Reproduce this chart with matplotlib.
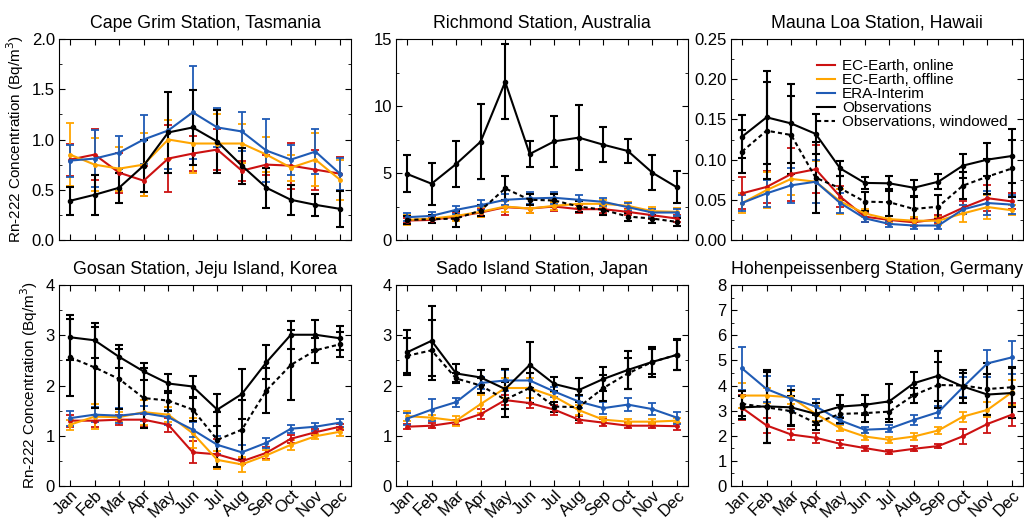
import matplotlib.pyplot as plt
import numpy as np
from matplotlib.lines import Line2D
from matplotlib.ticker import AutoMinorLocator

plt.rcParams['font.family'] = ['Liberation Sans', 'DejaVu Sans']

months = ['Jan', 'Feb', 'Mar', 'Apr', 'May', 'Jun',
          'Jul', 'Aug', 'Sep', 'Oct', 'Nov', 'Dec']

titles = ['Cape Grim Station, Tasmania', 'Richmond Station, Australia',
          'Mauna Loa Station, Hawaii', 'Gosan Station, Jeju Island, Korea',
          'Sado Island Station, Japan', 'Hohenpeissenberg Station, Germany']

# EC-Earth, online
online = [
    [0.80, 0.85, 0.67, 0.59, 0.81, 0.86, 0.90, 0.69, 0.75, 0.74, 0.70, 0.66],
    [1.45, 1.50, 1.75, 2.05, 2.45, 2.35, 2.50, 2.30, 2.30, 2.10, 1.85, 1.60],
    [0.058, 0.066, 0.082, 0.088, 0.054, 0.029, 0.025, 0.022, 0.026, 0.040, 0.052, 0.048],
    [1.30, 1.30, 1.32, 1.32, 1.22, 0.67, 0.63, 0.49, 0.66, 0.94, 1.07, 1.18],
    [1.18, 1.20, 1.27, 1.43, 1.71, 1.65, 1.52, 1.32, 1.26, 1.20, 1.20, 1.19],
    [3.11, 2.41, 2.05, 1.92, 1.68, 1.51, 1.35, 1.48, 1.59, 1.98, 2.47, 2.84],
]
online_err = [
    [0.16, 0.25, 0.20, 0.15, 0.33, 0.17, 0.20, 0.10, 0.10, 0.23, 0.20, 0.17],
    [0.20, 0.20, 0.25, 0.30, 0.55, 0.30, 0.30, 0.30, 0.30, 0.25, 0.25, 0.25],
    [0.020, 0.020, 0.033, 0.030, 0.013, 0.006, 0.005, 0.004, 0.005, 0.008, 0.016, 0.010],
    [0.12, 0.12, 0.10, 0.12, 0.14, 0.22, 0.30, 0.05, 0.12, 0.08, 0.06, 0.06],
    [0.05, 0.05, 0.05, 0.10, 0.10, 0.10, 0.10, 0.07, 0.07, 0.05, 0.05, 0.07],
    [0.50, 0.30, 0.20, 0.20, 0.15, 0.10, 0.08, 0.10, 0.08, 0.30, 0.35, 0.45],
]

# EC-Earth, offline
offline = [
    [0.85, 0.75, 0.71, 0.75, 1.00, 0.96, 0.96, 0.96, 0.85, 0.72, 0.80, 0.60],
    [1.50, 1.60, 1.80, 2.10, 2.50, 2.35, 2.55, 2.70, 2.70, 2.55, 2.15, 2.10],
    [0.046, 0.062, 0.076, 0.0725, 0.048, 0.033, 0.026, 0.024, 0.024, 0.033, 0.041, 0.037],
    [1.22, 1.38, 1.37, 1.47, 1.42, 1.05, 0.52, 0.43, 0.61, 0.82, 0.99, 1.08],
    [1.39, 1.36, 1.30, 1.63, 1.95, 1.95, 1.78, 1.51, 1.32, 1.28, 1.28, 1.30],
    [3.60, 3.60, 3.53, 2.87, 2.30, 1.97, 1.84, 1.97, 2.21, 2.76, 3.03, 3.73],
]
offline_err = [
    [0.31, 0.26, 0.22, 0.31, 0.19, 0.29, 0.29, 0.19, 0.17, 0.13, 0.26, 0.20],
    [0.35, 0.30, 0.35, 0.35, 0.40, 0.35, 0.30, 0.30, 0.30, 0.30, 0.30, 0.30],
    [0.012, 0.022, 0.020, 0.026, 0.016, 0.005, 0.004, 0.005, 0.005, 0.010, 0.015, 0.006],
    [0.10, 0.25, 0.10, 0.25, 0.15, 0.30, 0.18, 0.15, 0.10, 0.10, 0.05, 0.08],
    [0.10, 0.05, 0.10, 0.18, 0.20, 0.20, 0.10, 0.10, 0.05, 0.05, 0.05, 0.05],
    [0.50, 0.30, 0.25, 0.30, 0.12, 0.15, 0.12, 0.15, 0.15, 0.20, 0.30, 0.50],
]

# ERA-Interim
era = [
    [0.79, 0.81, 0.87, 1.00, 1.09, 1.27, 1.12, 1.08, 0.89, 0.80, 0.88, 0.66],
    [1.70, 1.80, 2.25, 2.60, 3.00, 3.10, 3.15, 3.00, 2.85, 2.45, 2.05, 2.05],
    [0.046, 0.058, 0.068, 0.0725, 0.046, 0.027, 0.020, 0.018, 0.018, 0.038, 0.046, 0.044],
    [1.35, 1.42, 1.40, 1.45, 1.37, 1.12, 0.82, 0.67, 0.86, 1.14, 1.18, 1.26],
    [1.34, 1.52, 1.67, 2.05, 2.10, 2.10, 1.88, 1.68, 1.55, 1.62, 1.53, 1.36],
    [4.68, 3.86, 3.47, 3.17, 2.61, 2.24, 2.28, 2.63, 2.94, 3.93, 4.88, 5.12],
]
era_err = [
    [0.16, 0.28, 0.16, 0.24, 0.38, 0.46, 0.19, 0.19, 0.31, 0.15, 0.22, 0.16],
    [0.30, 0.30, 0.30, 0.35, 0.40, 0.45, 0.45, 0.35, 0.30, 0.30, 0.25, 0.25],
    [0.010, 0.017, 0.022, 0.027, 0.012, 0.005, 0.004, 0.004, 0.004, 0.006, 0.015, 0.012],
    [0.15, 0.15, 0.15, 0.15, 0.15, 0.15, 0.18, 0.15, 0.10, 0.08, 0.08, 0.08],
    [0.12, 0.22, 0.09, 0.12, 0.20, 0.15, 0.10, 0.12, 0.12, 0.13, 0.12, 0.12],
    [0.85, 0.50, 0.50, 0.30, 0.15, 0.12, 0.15, 0.20, 0.25, 0.40, 0.55, 0.65],
]

# Observations
obs = [
    [0.39, 0.45, 0.52, 0.74, 1.07, 1.12, 0.98, 0.74, 0.52, 0.40, 0.35, 0.31],
    [4.93, 4.20, 5.67, 7.34, 11.8, 6.42, 7.36, 7.64, 7.11, 6.64, 5.02, 3.93],
    [0.1285, 0.1526, 0.145, 0.132, 0.089, 0.071, 0.0705, 0.065, 0.0725, 0.0925, 0.100, 0.1045],
    [2.96, 2.90, 2.57, 2.28, 2.04, 1.98, 1.52, 1.83, 2.46, 3.01, 3.01, 2.94],
    [2.66, 2.89, 2.24, 2.16, 1.93, 2.41, 2.03, 1.91, 2.13, 2.31, 2.47, 2.61],
    [3.13, 3.17, 3.13, 2.87, 3.16, 3.23, 3.37, 4.09, 4.39, 3.96, 3.64, 3.70],
]
obs_err = [
    [0.14, 0.20, 0.15, 0.26, 0.40, 0.37, 0.31, 0.18, 0.20, 0.15, 0.11, 0.18],
    [1.38, 1.58, 1.70, 2.80, 2.80, 1.00, 1.90, 2.45, 1.30, 0.90, 1.30, 1.20],
    [0.027, 0.058, 0.049, 0.025, 0.009, 0.007, 0.009, 0.010, 0.009, 0.015, 0.021, 0.034],
    [0.45, 0.35, 0.23, 0.17, 0.18, 0.20, 0.32, 0.50, 0.34, 0.28, 0.30, 0.24],
    [0.45, 0.70, 0.18, 0.15, 0.40, 0.45, 0.14, 0.24, 0.24, 0.38, 0.30, 0.31],
    [0.45, 1.45, 0.70, 0.45, 0.45, 0.40, 0.70, 0.45, 1.00, 0.65, 0.80, 1.00],
]

# Observations, windowed (none for Cape Grim)
obs_win = [
    None,
    [1.50, 1.55, 1.60, 2.20, 3.85, 3.00, 2.95, 2.50, 2.25, 1.75, 1.60, 1.35],
    [0.110, 0.136, 0.1306, 0.0775, 0.0643, 0.0477, 0.047, 0.0386, 0.0415, 0.0676, 0.0788, 0.089],
    [2.56, 2.36, 2.13, 1.75, 1.70, 1.52, 0.92, 1.12, 1.90, 2.41, 2.70, 2.82],
    [2.59, 2.70, 2.14, 2.00, 1.72, 1.95, 1.58, 1.57, 1.95, 2.24, 2.47, 2.61],
    [3.27, 3.13, 2.98, 2.51, 2.87, 2.90, 2.96, 3.62, 4.02, 4.00, 3.86, 3.93],
]
obs_win_err = [
    None,
    [0.30, 0.30, 0.60, 0.40, 0.90, 0.40, 0.50, 0.40, 0.40, 0.30, 0.30, 0.30],
    [0.027, 0.060, 0.048, 0.044, 0.015, 0.012, 0.017, 0.015, 0.015, 0.017, 0.022, 0.036],
    [0.77, 0.80, 0.60, 0.60, 0.20, 0.23, 0.55, 0.60, 0.45, 0.69, 0.25, 0.25],
    [0.35, 0.60, 0.10, 0.15, 0.35, 0.30, 0.10, 0.25, 0.25, 0.30, 0.25, 0.30],
    [0.50, 1.40, 0.60, 0.30, 0.35, 0.35, 0.40, 0.30, 0.90, 0.50, 1.05, 0.80],
]

ylims = [(0, 2.0), (0, 15), (0, 0.25), (0, 4), (0, 4), (0, 8)]
yticks = [np.arange(0, 2.01, 0.5), [0, 5, 10, 15], np.arange(0, 0.251, 0.05),
          range(5), range(5), range(9)]
yfmt = ['{:.1f}', '{:.0f}', '{:.2f}', '{:.0f}', '{:.0f}', '{:.0f}']

c_on = '#cc1111'
c_off = '#ffa500'
c_era = '#1f5bb5'
win_ls = (0, (2, 1.5))

lefts = [59, 396, 731]
tops = [39, 285]
W, H = 292, 201

fig = plt.figure(figsize=(10.24, 5.21), dpi=100)
x = np.arange(1, 13)

for i in range(6):
    r, c = divmod(i, 3)
    ax = fig.add_axes([lefts[c] / 1024, 1 - (tops[r] + H) / 521, W / 1024, H / 521])

    kw = dict(marker='o', markersize=2.5, capsize=3, elinewidth=1.3, capthick=1.3, linewidth=1.5)
    ax.errorbar(x, online[i], yerr=online_err[i], color=c_on, **kw)
    ax.errorbar(x, offline[i], yerr=offline_err[i], color=c_off, **kw)
    ax.errorbar(x, era[i], yerr=era_err[i], color=c_era, **kw)
    if obs_win[i] is not None:
        ax.errorbar(x, obs_win[i], yerr=obs_win_err[i], color='black', linestyle=win_ls,
                    marker='o', markersize=3, capsize=3, elinewidth=1.5, capthick=1.5,
                    linewidth=1.5)
    ax.errorbar(x, obs[i], yerr=obs_err[i], color='black', marker='o', markersize=3,
                capsize=3, elinewidth=1.5, capthick=1.5, linewidth=1.5)

    ax.set_xlim(0.55, 12.45)
    ax.set_ylim(*ylims[i])
    ax.set_yticks(yticks[i])
    ax.set_yticklabels([yfmt[i].format(v) for v in yticks[i]])
    ax.yaxis.set_minor_locator(AutoMinorLocator(2))
    ax.set_xticks(x)
    if r == 1:
        ax.set_xticklabels(months, rotation=45, ha='right', rotation_mode='anchor', fontsize=10)
    else:
        ax.set_xticklabels([])
    ax.tick_params(direction='in', top=True, right=True, labelsize=12, length=4, pad=3)
    ax.tick_params(axis='x', pad=1)
    ax.tick_params(which='minor', direction='in', right=True, length=2.5)
    ax.set_title(titles[i], fontsize=12.8, pad=8)
    if c == 0:
        ax.set_ylabel('Rn-222 Concentration (Bq/m$^3$)', fontsize=11)

    if i == 2:
        handles = [Line2D([], [], color=c_on, lw=1.5),
                   Line2D([], [], color=c_off, lw=1.5),
                   Line2D([], [], color=c_era, lw=1.5),
                   Line2D([], [], color='black', lw=1.5),
                   Line2D([], [], color='black', lw=1.5, linestyle=win_ls)]
        labels = ['EC-Earth, online', 'EC-Earth, offline', 'ERA-Interim',
                  'Observations', 'Observations, windowed']
        ax.legend(handles, labels, loc='upper right', frameon=False, fontsize=11,
                  handlelength=1.2, handletextpad=0.45, labelspacing=0.0,
                  borderaxespad=0.4, bbox_to_anchor=(0.99, 0.96))

fig.savefig('out.png', dpi=100)
